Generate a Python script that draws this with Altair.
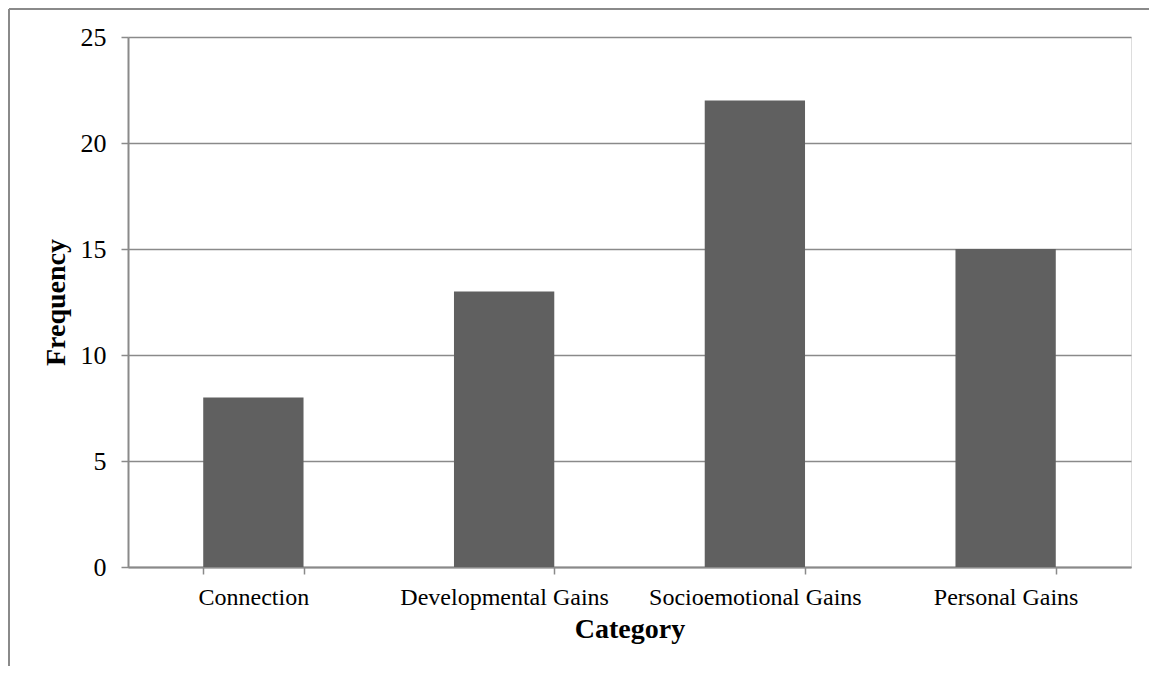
import altair as alt
import pandas as pd

categories = ["Connection", "Developmental Gains", "Socioemotional Gains", "Personal Gains"]
frequency = [8, 13, 22, 15]
y_ticks = [0, 5, 10, 15, 20, 25]

df = pd.DataFrame({"Category": categories, "Frequency": frequency})

FONT = "Liberation Serif"
GREY = "#8a8a8a"

bars = alt.Chart(df).mark_bar(color="#606060").encode(
    x=alt.X("Category:N", sort=categories,
            scale=alt.Scale(paddingInner=0.6, paddingOuter=0.3),
            axis=alt.Axis(title="Category", labelAngle=0, labelFontSize=24,
                          labelFont=FONT, labelColor="black", labelPadding=11,
                          labelLimit=0,
                          titleFont=FONT, titleFontSize=28, titleFontWeight="bold",
                          titleColor="black", titlePadding=6,
                          domainColor=GREY, domainWidth=2, tickColor=GREY,
                          tickWidth=1.5, tickSize=7, tickBand="extent", grid=False)),
    y=alt.Y("Frequency:Q", scale=alt.Scale(domain=[0, 25], nice=False),
            axis=alt.Axis(title="Frequency", values=y_ticks, labelFontSize=26,
                          labelFont=FONT, labelColor="black", labelPadding=15,
                          titleFont=FONT, titleFontSize=28, titleFontWeight="bold",
                          titleColor="black", titlePadding=10,
                          domainColor=GREY, domainWidth=2, tickColor=GREY,
                          tickWidth=1.5, tickSize=7, grid=True, gridColor=GREY,
                          gridWidth=1.5)),
)

frame_left = alt.Chart(df).mark_rule(color=GREY, strokeWidth=2).encode(
    x=alt.value(-119), y=alt.value(-28), y2=alt.value(700)
)
frame_top = alt.Chart(df).mark_rule(color=GREY, strokeWidth=2).encode(
    x=alt.value(-119), x2=alt.value(1100), y=alt.value(-28)
)

chart = alt.layer(bars, frame_left, frame_top).properties(
    width=1003, height=530,
    autosize=alt.AutoSizeParams(type="none"),
    padding={"left": 120, "top": 29, "right": 18, "bottom": 99},
).configure_view(stroke=None).configure(background="white")

chart.save("out.html", embed_options={"renderer": "svg", "actions": False})
